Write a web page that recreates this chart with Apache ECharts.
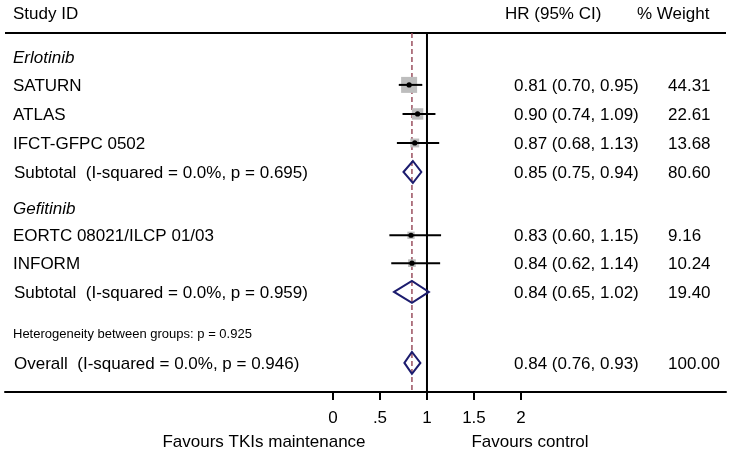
<!DOCTYPE html>
<html>
<head>
<meta charset="utf-8">
<script src="https://cdn.jsdelivr.net/npm/echarts@6/dist/echarts.min.js"></script>
<style>html,body{margin:0;padding:0;background:#fff}#c{width:742px;height:471px}</style>
</head>
<body>
<div id="c"></div>
<script>
// ---- data ----
const groupNames = ['Erlotinib', 'Gefitinib'];
const studyNames = ['SATURN', 'ATLAS', 'IFCT-GFPC 0502', 'EORTC 08021/ILCP 01/03', 'INFORM'];
const studyGroup = [0, 0, 0, 1, 1];
const studyHR = [0.81, 0.90, 0.87, 0.83, 0.84];
const studyLo = [0.70, 0.74, 0.68, 0.60, 0.62];
const studyHi = [0.95, 1.09, 1.13, 1.15, 1.14];
const studyWeight = [44.31, 22.61, 13.68, 9.16, 10.24];
const subtotalLabels = ['Subtotal  (I-squared = 0.0%, p = 0.695)', 'Subtotal  (I-squared = 0.0%, p = 0.959)'];
const subtotalHR = [0.85, 0.84];
const subtotalLo = [0.75, 0.65];
const subtotalHi = [0.94, 1.02];
const subtotalWeight = [80.60, 19.40];
const heterogeneityText = 'Heterogeneity between groups: p = 0.925';
const overallLabel = 'Overall  (I-squared = 0.0%, p = 0.946)';
const overallHR = [0.84];
const overallLo = [0.76];
const overallHi = [0.93];
const overallWeight = [100.00];
const xTickValues = [0, 0.5, 1, 1.5, 2];
const xTickLabels = ['0', '.5', '1', '1.5', '2'];
const headers = ['Study ID', 'HR (95% CI)', '% Weight'];
const footers = ['Favours TKIs maintenance', 'Favours control'];

// ---- build table rows (order of the plot) ----
const tableRows = [];
groupNames.forEach((g, gi) => {
  tableRows.push({ kind: 'group', label: g });
  studyNames.forEach((s, i) => {
    if (studyGroup[i] === gi) tableRows.push({ kind: 'study', label: s, hr: studyHR[i], lo: studyLo[i], hi: studyHi[i], w: studyWeight[i] });
  });
  tableRows.push({ kind: 'diamond', label: subtotalLabels[gi], hr: subtotalHR[gi], lo: subtotalLo[gi], hi: subtotalHi[gi], w: subtotalWeight[gi] });
});
tableRows.push({ kind: 'note', label: heterogeneityText });
tableRows.push({ kind: 'diamond', label: overallLabel, hr: overallHR[0], lo: overallLo[0], hi: overallHi[0], w: overallWeight[0] });

// layout: vertical slot of each row (row units)
const rowSlot = [1, 1.97, 2.98, 3.99, 5.0, 6.25, 7.2, 8.17, 9.17, 10.6, 11.64];

const FONT = 'Liberation Sans, Arial, sans-serif';
const FS = 17;
const NAVY = '#1c1c6e';
const maxW = Math.max(...studyWeight);

function renderRow(params, api) {
  const r = tableRows[params.dataIndex];
  const y = api.coord([0, api.value(1)])[1];
  const ch = [];
  const isGroup = r.kind === 'group';
  ch.push({ type: 'text', style: { x: r.kind === 'diamond' ? 14 : 13, y: y + 1, text: r.label, fill: '#000',
    fontFamily: FONT, fontSize: r.kind === 'note' ? 13 : FS, fontStyle: isGroup ? 'italic' : 'normal',
    align: 'left', verticalAlign: 'middle' } });
  if (r.kind === 'study' || r.kind === 'diamond') {
    const t = r.hr.toFixed(2) + ' (' + r.lo.toFixed(2) + ', ' + r.hi.toFixed(2) + ')';
    ch.push({ type: 'text', style: { x: 514, y: y + 1, text: t, fill: '#000', fontFamily: FONT, fontSize: FS, align: 'left', verticalAlign: 'middle' } });
    ch.push({ type: 'text', style: { x: 668, y: y + 1, text: r.w.toFixed(2), fill: '#000', fontFamily: FONT, fontSize: FS, align: 'left', verticalAlign: 'middle' } });
    const xe = api.coord([r.hr, 0])[0];
    const xl = api.coord([r.lo, 0])[0];
    const xh = api.coord([r.hi, 0])[0];
    if (r.kind === 'study') {
      const s = 16 * Math.sqrt(r.w / maxW);
      ch.push({ type: 'rect', shape: { x: xe - s / 2, y: y - s / 2, width: s, height: s }, style: { fill: '#bdbdbd' } });
      ch.push({ type: 'line', shape: { x1: xl, y1: y, x2: xh, y2: y }, style: { stroke: '#000', lineWidth: 2 } });
      ch.push({ type: 'circle', shape: { cx: xe, cy: y, r: 2.6 }, style: { fill: '#000' } });
    } else {
      const h = 11;
      ch.push({ type: 'polygon', shape: { points: [[xl, y], [xe, y - h], [xh, y], [xe, y + h]] },
        style: { fill: 'none', stroke: NAVY, lineWidth: 2 } });
    }
  }
  return { type: 'group', children: ch };
}

function renderRefs(params, api) {
  const cs = params.coordSys;
  const x1 = api.coord([1, 0])[0];
  const xo = api.coord([overallHR[0], 0])[0];
  return { type: 'group', children: [
    { type: 'line', shape: { x1: cs.x, y1: cs.y, x2: cs.x + cs.width, y2: cs.y }, style: { stroke: '#000', lineWidth: 2 } },
    { type: 'line', shape: { x1: xo, y1: cs.y, x2: xo, y2: cs.y + cs.height }, style: { stroke: '#9a4f5e', lineWidth: 1.5, lineDash: [5, 3] } },
    { type: 'line', shape: { x1: x1, y1: cs.y, x2: x1, y2: cs.y + cs.height }, style: { stroke: '#000', lineWidth: 2 } }
  ] };
}

const chart = echarts.init(document.getElementById('c'), null, { renderer: 'canvas' });
chart.setOption({
  animation: false,
  backgroundColor: '#fff',
  grid: { left: 5, right: 16, top: 33, bottom: 79 },
  xAxis: {
    type: 'value', min: -3.489, max: 4.181,
    splitLine: { show: false },
    axisLine: { show: true, lineStyle: { color: '#000', width: 2 } },
    axisTick: { show: true, customValues: xTickValues, length: 8, lineStyle: { color: '#000', width: 2 } },
    axisLabel: { customValues: xTickValues, margin: 18, color: '#000', fontSize: FS, fontFamily: FONT,
      formatter: v => xTickLabels[xTickValues.indexOf(v)] ?? '' }
  },
  yAxis: { type: 'value', inverse: true, min: 0.165, max: 12.652, show: false },
  graphic: [
    { type: 'text', style: { x: 13, y: 14, text: headers[0], fontSize: FS, fontFamily: FONT, fill: '#000', align: 'left', verticalAlign: 'middle' } },
    { type: 'text', style: { x: 505, y: 14, text: headers[1], fontSize: FS, fontFamily: FONT, fill: '#000', align: 'left', verticalAlign: 'middle' } },
    { type: 'text', style: { x: 637, y: 14, text: headers[2], fontSize: FS, fontFamily: FONT, fill: '#000', align: 'left', verticalAlign: 'middle' } },
    { type: 'text', style: { x: 264, y: 442, text: footers[0], fontSize: FS, fontFamily: FONT, fill: '#000', align: 'center', verticalAlign: 'middle' } },
    { type: 'text', style: { x: 530, y: 442, text: footers[1], fontSize: FS, fontFamily: FONT, fill: '#000', align: 'center', verticalAlign: 'middle' } }
  ],
  series: [
    { type: 'custom', renderItem: renderRefs, data: [[1, 1]], clip: false, silent: true, z: 1 },
    { type: 'custom', renderItem: renderRow, clip: false, silent: true, z: 2,
      data: tableRows.map((r, i) => [r.hr ?? 1, rowSlot[i]]) }
  ]
});
</script>
</body>
</html>
